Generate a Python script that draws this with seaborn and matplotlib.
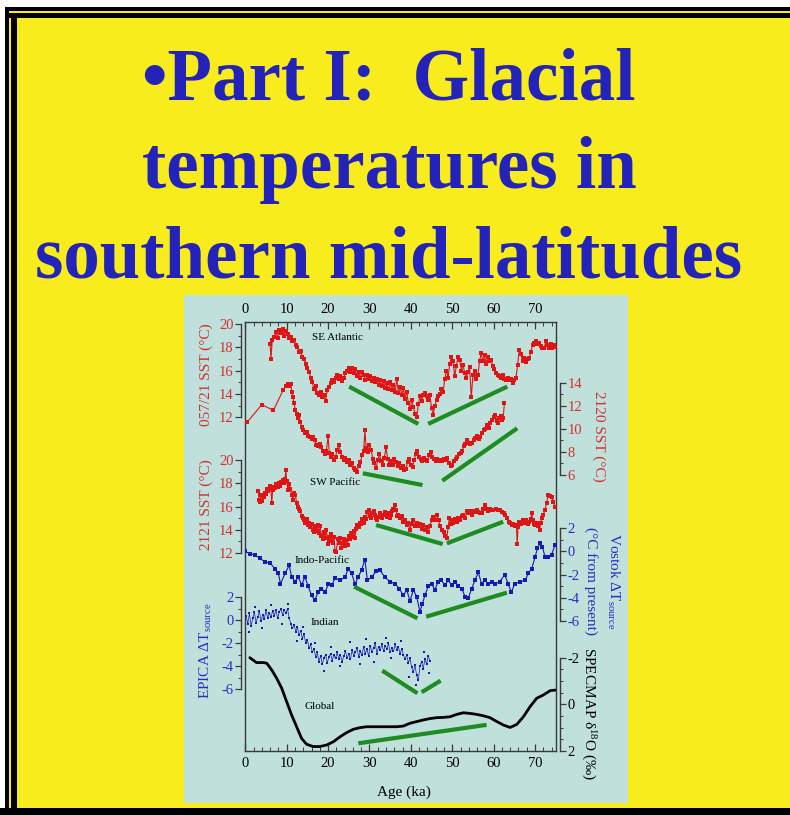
import matplotlib
matplotlib.use("Agg")
import matplotlib.pyplot as plt
import seaborn as sns
from matplotlib.patches import Rectangle
from matplotlib.ticker import MultipleLocator

# ---------------------------------------------------------------- data
# SE Atlantic, core 057/21 SST (degC)
se_atl_age = [6.0, 6.2, 6.5, 7.0, 7.4, 7.8, 8.2, 8.6, 9.0, 9.4, 9.8, 10.2, 10.6, 11.0, 11.4, 11.8,
              12.2, 12.6, 13.0, 13.4, 13.8, 14.2, 14.6, 15.0, 15.4, 15.8, 16.2, 16.6, 17.0, 17.4,
              17.8, 18.2, 18.6, 19.0, 19.4, 19.8, 20.2, 20.6, 21.0, 21.4, 21.8, 22.2, 22.6, 23.0,
              23.4, 23.8, 24.2, 24.6, 25.0, 25.4, 25.8, 26.2, 26.6, 27.0, 27.4, 27.8, 28.2, 28.6,
              29.0, 29.4, 29.8, 30.2, 30.6, 31.0, 31.4, 31.8, 32.2, 32.6, 33.0, 33.4, 33.8, 34.2,
              34.6, 35.0, 35.4, 35.8, 36.2, 36.6, 37.0, 37.4, 37.8, 38.2, 38.6, 39.0, 39.4, 39.8,
              40.2, 40.6, 41.0, 41.4, 41.8, 42.2, 42.6, 43.0, 43.4, 43.8, 44.2, 44.6, 45.0, 45.4,
              45.8, 46.2, 46.6, 47.0, 47.4, 47.8, 48.2, 48.6, 49.0, 49.4, 49.8, 50.2, 50.6, 51.0,
              51.4, 51.8, 52.2, 52.6, 53.0, 53.4, 53.8, 54.2, 54.6, 55.0, 55.4, 55.8, 56.2, 56.6,
              57.0, 57.4, 57.8, 58.2, 58.6, 59.0, 59.4, 59.8, 60.2, 60.6, 61.0, 61.4, 61.8, 62.2,
              62.6, 63.0, 63.4, 63.8, 64.2, 64.6, 65.0, 65.4, 65.8, 66.2, 66.6, 67.0, 67.4, 67.8,
              68.2, 68.6, 69.0, 69.4, 69.8, 70.2, 70.6, 71.0, 71.4, 71.8, 72.2, 72.6, 73.0, 73.4,
              73.8, 74.2, 74.6, 75.0]
se_atl_sst = [18.3, 17.0, 18.6, 18.9, 19.3, 18.8, 19.5, 19.2, 19.6, 19.0, 19.4, 19.1, 18.8, 18.9,
              18.5, 18.6, 18.2, 18.0, 17.6, 17.7, 17.2, 17.0, 16.6, 16.2, 15.9, 15.4, 15.0, 14.4,
              14.7, 14.1, 13.9, 14.2, 13.7, 13.9, 13.4, 14.3, 14.6, 14.9, 15.2, 15.0, 15.4, 15.6,
              15.3, 15.5, 15.1, 15.4, 15.8, 16.0, 16.2, 15.9, 16.2, 15.8, 16.1, 15.5, 15.9, 15.4,
              15.9, 15.6, 15.2, 15.6, 15.3, 15.5, 15.1, 15.4, 15.0, 15.3, 14.8, 15.2, 14.7, 15.1,
              14.5, 14.9, 14.4, 15.0, 14.3, 14.8, 14.2, 15.3, 14.1, 14.6, 13.9, 14.5, 13.6, 14.2,
              13.2, 12.7, 13.5, 12.9, 12.3, 12.0, 13.1, 13.8, 13.4, 13.9, 14.1, 13.8, 13.5, 13.9,
              12.8, 12.2, 13.0, 13.5, 13.8, 14.0, 14.4, 14.2, 15.3, 16.0, 15.4, 16.6, 17.2, 16.8,
              15.5, 16.4, 17.2, 16.9, 16.0, 16.5, 15.8, 15.4, 15.9, 16.3, 13.7, 15.6, 16.0, 15.3,
              15.6, 16.8, 17.5, 16.8, 17.3, 16.6, 17.2, 16.8, 16.9, 16.4, 16.1, 15.8, 15.6, 15.5,
              15.4, 15.6, 15.3, 15.2, 15.4, 15.2, 15.3, 14.9, 15.2, 15.4, 16.5, 17.8, 17.4, 16.8,
              17.1, 16.7, 17.0, 17.1, 17.6, 18.2, 18.4, 18.5, 18.3, 18.4, 18.1, 17.9, 17.9, 18.5,
              18.2, 17.9, 18.3, 17.9, 18.2, 18.0]

# core 2120 SST (degC)
c2120_age = [0.5, 4.0, 6.8, 9.2, 9.8, 10.2, 10.6, 11.0, 11.2, 11.5, 11.8, 12.1, 12.4, 12.7, 13.0,
             13.3, 13.6, 14.0, 14.4, 14.8, 15.2, 15.6, 16.0, 16.4, 16.8, 17.2, 17.6, 18.0, 18.4,
             18.8, 19.2, 19.6, 20.0, 20.3, 20.6, 21.0, 21.4, 21.8, 22.2, 22.6, 23.0, 23.4, 23.8,
             24.2, 24.6, 25.0, 25.4, 25.8, 26.2, 26.6, 27.0, 27.4, 27.8, 28.2, 28.6, 28.9, 29.2,
             29.6, 30.0, 30.4, 30.8, 31.2, 31.6, 32.0, 32.4, 32.8, 33.2, 33.6, 34.0, 34.4, 34.8,
             35.2, 35.6, 36.0, 36.4, 36.8, 37.2, 37.6, 38.0, 38.4, 38.8, 39.2, 39.6, 40.0, 40.4,
             40.8, 41.2, 41.6, 42.0, 42.4, 42.8, 43.2, 43.6, 44.0, 44.4, 44.8, 45.2, 45.6, 46.0,
             46.4, 46.8, 47.2, 47.6, 48.0, 48.4, 48.8, 49.2, 49.6, 50.0, 50.4, 50.8, 51.2, 51.6,
             52.0, 52.4, 52.8, 53.2, 53.6, 54.0, 54.4, 54.8, 55.2, 55.6, 56.0, 56.4, 56.8, 57.2,
             57.6, 58.0, 58.4, 58.8, 59.2, 59.6, 60.0, 60.4, 60.8, 61.1, 61.4, 61.7, 62.0, 62.3,
             62.6]
c2120_sst = [10.6, 12.1, 11.6, 13.4, 13.7, 13.9, 13.7, 13.9, 13.2, 12.8, 12.2, 11.6, 11.3, 10.9,
             11.2, 10.6, 10.2, 9.9, 9.6, 9.7, 9.4, 9.3, 9.1, 9.3, 9.0, 8.6, 8.5, 8.7, 8.4, 8.1,
             7.8, 8.1, 9.4, 7.9, 7.6, 7.8, 7.3, 7.6, 8.2, 8.6, 8.0, 7.6, 7.3, 7.5, 7.1, 7.3, 6.9,
             7.0, 6.6, 6.4, 6.3, 6.8, 7.1, 7.7, 8.1, 9.9, 8.3, 8.0, 8.6, 8.2, 7.4, 7.0, 6.6, 7.3,
             7.8, 7.2, 6.9, 7.5, 8.4, 7.4, 6.9, 7.2, 6.9, 7.4, 7.1, 6.8, 7.0, 6.6, 6.8, 6.4, 6.5,
             7.1, 7.4, 6.9, 6.7, 7.3, 7.8, 8.1, 7.6, 7.4, 7.2, 7.5, 7.3, 7.2, 7.7, 8.0, 7.6, 7.4,
             7.2, 7.4, 7.2, 7.3, 7.2, 7.4, 7.3, 7.5, 7.0, 6.8, 6.9, 7.2, 7.4, 7.6, 7.8, 7.9, 8.1,
             8.5, 8.7, 9.0, 8.8, 8.7, 8.8, 9.0, 9.2, 9.4, 9.1, 9.3, 9.6, 9.9, 10.0, 10.3, 10.1,
             10.5, 10.8, 11.0, 11.2, 10.7, 10.5, 10.9, 11.1, 10.8, 10.9, 12.2]

# SW Pacific, core 2121 SST (degC)
sw_pac_age = [3.1, 3.3, 3.5, 3.8, 4.1, 4.4, 4.7, 5.0, 5.3, 5.6, 5.9, 6.2, 6.4, 6.6, 6.9, 7.2, 7.5,
              7.8, 8.1, 8.4, 8.7, 9.0, 9.3, 9.6, 9.8, 10.0, 10.3, 10.6, 10.9, 11.2, 11.5, 11.8,
              12.1, 12.4, 12.7, 13.0, 13.3, 13.6, 13.9, 14.2, 14.5, 14.8, 15.1, 15.4, 15.7, 16.0,
              16.3, 16.6, 16.9, 17.2, 17.5, 17.8, 18.1, 18.4, 18.7, 19.0, 19.3, 19.6, 19.9, 20.2,
              20.5, 20.8, 21.1, 21.4, 21.7, 22.0, 22.3, 22.6, 22.9, 23.2, 23.5, 23.8, 24.1, 24.4,
              24.7, 25.0, 25.3, 25.6, 25.9, 26.2, 26.5, 26.8, 27.1, 27.4, 27.7, 28.0, 28.3, 28.6,
              28.9, 29.2, 29.5, 29.8, 30.1, 30.4, 30.7, 31.0, 31.3, 31.6, 31.9, 32.2, 32.5, 32.8,
              33.1, 33.4, 33.7, 34.0, 34.3, 34.6, 34.9, 35.2, 35.5, 35.8, 36.1, 36.4, 36.7, 37.0,
              37.4, 37.8, 38.2, 38.6, 39.0, 39.4, 39.8, 40.2, 40.6, 41.0, 41.4, 41.8, 42.2, 42.6,
              43.0, 43.4, 43.8, 44.2, 44.6, 45.0, 45.4, 45.8, 46.3, 46.7, 47.1, 47.5, 47.9, 48.3,
              48.7, 49.0, 49.3, 49.7, 50.0, 50.3, 50.7, 51.1, 51.5, 51.9, 52.3, 52.7, 53.1, 53.5,
              53.9, 54.3, 54.7, 55.1, 55.5, 55.9, 56.3, 56.7, 57.1, 57.5, 57.9, 58.3, 58.7, 59.1,
              59.5, 59.9, 60.5, 61.0, 61.5, 62.0, 62.5, 62.8, 63.2, 63.6, 64.0, 64.4, 64.8, 65.2,
              65.5, 65.7, 65.9, 66.2, 66.6, 67.0, 67.4, 67.8, 68.2, 68.6, 69.0, 69.2, 69.5, 69.8,
              70.0, 70.4, 70.8, 71.1, 71.4, 71.6, 72.0, 72.4, 72.8, 73.2, 73.6, 74.0, 74.4, 74.8]
sw_pac_sst = [17.3, 16.6, 16.4, 17.0, 16.5, 16.8, 17.2, 17.1, 17.5, 17.3, 17.8, 17.5, 16.3, 17.4,
              17.7, 17.6, 17.9, 17.7, 18.0, 17.8, 18.1, 18.3, 18.0, 18.4, 19.1, 18.2, 17.4, 17.9,
              17.5, 17.0, 16.6, 17.2, 17.0, 16.3, 16.0, 15.8, 15.6, 15.2, 15.0, 14.8, 14.6, 14.9,
              14.4, 14.6, 14.2, 14.5, 14.0, 13.8, 14.3, 13.9, 14.4, 13.7, 14.3, 13.5, 13.2, 13.8,
              13.3, 14.0, 12.8, 13.4, 13.0, 13.6, 12.9, 13.4, 12.2, 12.1, 13.2, 12.9, 13.3, 12.4,
              12.9, 13.2, 12.6, 13.1, 12.7, 13.5, 13.2, 13.7, 13.4, 13.9, 13.3, 14.1, 14.4, 14.2,
              14.6, 14.5, 14.9, 14.6, 15.1, 14.9, 15.5, 15.7, 15.2, 15.0, 15.4, 15.6, 15.3, 15.0,
              14.8, 15.1, 15.4, 15.2, 15.0, 15.3, 15.5, 15.3, 15.1, 15.4, 15.0, 15.3, 15.6, 15.8,
              16.1, 15.7, 15.2, 15.3, 15.0, 15.2, 14.7, 14.8, 14.4, 14.6, 14.0, 14.5, 14.8, 14.3,
              14.6, 14.3, 14.5, 14.1, 14.4, 14.0, 14.2, 13.8, 14.3, 14.8, 15.1, 14.8, 15.3, 14.8,
              14.3, 14.0, 13.8, 13.5, 13.3, 14.2, 15.0, 14.5, 14.8, 14.6, 14.9, 14.7, 15.0, 14.8,
              15.2, 15.3, 15.0, 15.6, 15.4, 15.6, 15.3, 15.6, 15.5, 15.7, 15.5, 15.4, 15.4, 15.8,
              16.1, 15.8, 15.6, 15.8, 15.7, 15.7, 15.8, 15.7, 15.7, 15.5, 15.4, 15.3, 15.0, 14.7,
              14.6, 14.4, 14.5, 14.3, 14.4, 12.8, 14.2, 14.7, 14.5, 14.8, 14.6, 14.8, 14.5, 14.7,
              14.9, 15.4, 14.8, 14.5, 14.4, 14.6, 14.3, 14.0, 14.6, 15.0, 15.3, 15.7, 16.3, 17.0,
              16.9, 16.8, 16.4, 16.0]

# Indo-Pacific, Vostok Delta T source (degC from present)
vostok_age = [0.0, 1.1, 2.3, 3.5, 4.8, 6.0, 7.2, 8.0, 8.5, 9.6, 10.6, 11.2, 12.0, 12.8, 13.6,
              14.4, 15.2, 16.0, 16.8, 17.6, 18.4, 19.3, 20.1, 20.9, 21.7, 22.9, 24.1, 24.9, 25.7,
              26.5, 27.3, 28.1, 28.9, 29.5, 30.5, 31.7, 32.5, 33.7, 34.9, 36.2, 37.2, 38.2, 39.0,
              39.8, 40.6, 41.4, 42.2, 42.8, 43.4, 44.2, 45.0, 45.8, 46.6, 47.4, 48.2, 49.0, 49.9,
              50.7, 51.5, 52.3, 53.1, 53.9, 54.7, 55.5, 56.3, 57.1, 57.9, 58.7, 59.5, 60.3, 61.5,
              62.7, 63.5, 64.3, 65.1, 66.4, 67.6, 68.4, 69.2, 70.0, 70.6, 71.2, 71.8, 72.4, 73.2,
              74.0, 74.8]
vostok_dt = [0.0, -0.2, -0.3, -0.6, -0.9, -1.0, -1.5, -1.9, -2.8, -1.9, -1.2, -2.2, -2.6, -2.2,
             -2.9, -2.2, -3.0, -3.8, -4.2, -3.5, -3.2, -3.5, -2.8, -2.9, -2.3, -2.5, -2.2, -1.5,
             -1.9, -2.8, -2.2, -1.6, -0.7, -2.5, -2.2, -1.7, -1.6, -2.2, -2.6, -2.8, -3.2, -3.8,
             -3.3, -4.3, -3.3, -3.9, -5.2, -4.5, -3.8, -3.0, -2.8, -3.3, -2.6, -2.5, -2.9, -2.5,
             -2.9, -2.6, -3.0, -3.2, -3.9, -4.0, -3.2, -2.5, -1.8, -2.8, -2.5, -2.8, -2.6, -2.8,
             -2.6, -2.0, -2.8, -3.5, -2.8, -2.6, -2.5, -1.9, -1.5, -0.5, 0.3, 0.7, 0.4, -0.45,
             -0.45, -0.3, 0.55]

# Indian, EPICA Delta T source (degC)
indian_age = [0.2, 0.6, 1.0, 1.4, 1.8, 2.2, 2.6, 3.0, 3.4, 3.8, 4.2, 4.6, 5.0, 5.4, 5.8, 6.2,
              6.6, 7.0, 7.4, 7.8, 8.2, 8.6, 9.0, 9.4, 9.8, 10.2, 10.6, 11.0, 11.4, 11.8, 12.2,
              12.6, 13.0, 13.4, 13.8, 14.2, 14.6, 15.0, 15.4, 15.8, 16.2, 16.6, 17.0, 17.4, 17.8,
              18.2, 18.6, 19.0, 19.4, 19.8, 20.2, 20.6, 21.0, 21.4, 21.8, 22.2, 22.6, 23.0, 23.4,
              23.8, 24.2, 24.6, 25.0, 25.4, 25.8, 26.2, 26.6, 27.0, 27.4, 27.8, 28.2, 28.6, 29.0,
              29.4, 29.8, 30.2, 30.6, 31.0, 31.4, 31.8, 32.2, 32.6, 33.0, 33.4, 33.8, 34.2, 34.6,
              35.0, 35.4, 35.8, 36.2, 36.6, 37.0, 37.4, 37.8, 38.2, 38.6, 39.0, 39.4, 39.8, 40.2,
              40.6, 41.0, 41.4, 41.8, 42.2, 42.6, 43.0, 43.4, 43.8, 44.2, 44.6]
indian_dt = [0.4, -0.3, 0.6, -0.5, 0.2, 0.7, -0.2, 0.3, 0.8, -0.1, 0.5, 0.1, 0.9, 0.2, 0.6, 0.3,
             0.8, 0.4, 0.9, 0.2, 0.7, 1.0, 0.5, 0.9, 0.6, 1.0, 0.2, -0.3, -0.7, -0.4, -1.0, -0.6,
             -1.3, -0.9, -1.6, -1.2, -2.0, -1.7, -2.4, -2.1, -2.8, -2.5, -3.2, -2.8, -3.6, -3.1,
             -3.8, -3.3, -3.0, -3.7, -3.2, -2.9, -3.5, -3.0, -3.3, -2.8, -3.4, -3.0, -3.6, -3.1,
             -2.7, -3.3, -2.9, -3.4, -2.6, -3.1, -2.8, -2.4, -3.2, -2.7, -3.0, -2.3, -2.9, -2.5,
             -3.1, -2.2, -2.8, -2.4, -2.0, -2.9, -2.3, -2.6, -2.1, -2.7, -2.2, -2.5, -2.0, -2.8,
             -2.4, -2.7, -2.1, -2.6, -2.3, -2.9, -2.5, -3.0, -3.4, -3.0, -3.7, -3.3, -4.1, -4.5,
             -3.9, -4.8, -5.2, -4.0, -3.6, -4.2, -3.4, -3.8, -3.1, -3.5]
# scattered outlying samples of the Indian record
indian_out_age = [0.8, 2.4, 4.0, 6.1, 8.8, 10.4, 12.5, 14.0, 16.8, 18.9, 20.8, 22.9, 25.2, 27.6,
                  29.1, 31.2, 33.9, 35.3, 37.6, 39.5, 41.2, 43.1, 44.3]
indian_out_dt = [-1.0, 1.2, -0.7, 1.3, -0.3, 1.4, -1.8, -0.6, -2.0, -4.4, -2.3, -4.0, -1.9,
                 -3.8, -1.6, -3.6, -1.5, -3.3, -1.8, -4.9, -5.6, -2.8, -4.6]

# Global, SPECMAP delta18O (permil)
global_age = [1.1, 2.7, 4.4, 5.2, 6.4, 7.6, 8.8, 10.0, 11.2, 12.4, 13.6, 14.8, 16.4, 18.0, 19.7,
              21.3, 22.9, 24.5, 26.1, 27.7, 29.3, 31.7, 34.2, 36.6, 38.2, 39.8, 41.4, 43.0, 44.6,
              46.3, 47.9, 49.5, 51.1, 52.7, 54.3, 55.9, 57.5, 59.1, 60.8, 62.4, 64.0, 65.6, 67.2,
              68.8, 70.4, 72.0, 73.7, 74.9]
global_d18o = [-2.0, -1.79, -1.79, -1.76, -1.47, -1.11, -0.69, -0.11, 0.46, 0.96, 1.46, 1.71,
               1.81, 1.81, 1.74, 1.60, 1.39, 1.21, 1.07, 1.00, 0.96, 0.96, 0.96, 0.96, 0.93, 0.81,
               0.74, 0.67, 0.61, 0.57, 0.56, 0.53, 0.43, 0.36, 0.39, 0.43, 0.49, 0.57, 0.74, 0.89,
               0.99, 0.86, 0.53, 0.10, -0.26, -0.40, -0.59, -0.61]

# trend segments: (age0, value0, age1, value1) in each record's own units
se_atl_trends = [(25.1, 14.63, 41.8, 11.43), (44.2, 11.43, 63.3, 14.63)]
c2120_trends = [(28.4, 6.15, 42.8, 5.13), (47.6, 5.50, 65.7, 10.05)]
sw_pac_trends = [(31.6, 14.41, 47.7, 12.77), (48.7, 12.83, 62.3, 14.69)]
vostok_trends = [(26.3, -3.04, 41.6, -5.77), (43.7, -5.63, 63.2, -3.56)]
indian_trends = [(33.1, -4.38, 41.6, -6.35), (42.6, -6.26, 47.2, -5.25)]
global_trends = [(27.3, 1.67, 58.3, 0.88)]

x_ticks = [0, 10, 20, 30, 40, 50, 60, 70]

# ---------------------------------------------------------------- style
sns.set_theme(style="white")
plt.rcParams["font.family"] = ["Liberation Serif", "DejaVu Serif"]
plt.rcParams["mathtext.fontset"] = "custom"
plt.rcParams["mathtext.rm"] = "Liberation Serif"
plt.rcParams["mathtext.it"] = "Liberation Serif:italic"
plt.rcParams["axes.unicode_minus"] = False

W, H = 790, 815
YELLOW = "#f9ec1d"
PANEL = "#bfe0db"
TITLE_BLUE = "#2323b9"
RED = "#e01414"
RED_TXT = "#d43030"
BLUE = "#1818b4"
BLUE_TXT = "#2a2ac8"
GREEN = "#1f8c22"
SPINE = "#3a3a3a"

fig = plt.figure(figsize=(W / 100, H / 100), dpi=100)
fig.patch.set_facecolor(YELLOW)


def box(x0, y0, x1, y1, color, z=-5):
    fig.add_artist(Rectangle((x0 / W, 1 - y1 / H), (x1 - x0) / W, (y1 - y0) / H,
                             transform=fig.transFigure, facecolor=color,
                             edgecolor="none", zorder=z))


def fxy(x, y):
    return x / W, 1 - y / H


# slide frame
box(0, 0, W, 7, "white")
box(0, 0, 5, H, "white")
box(5, 7, W, 11, "black")
box(5, 12.5, W, 18, "black")
box(5, 7, 9, 808, "black")
box(11, 12.5, 17, 808, "black")
box(0, 807.5, W, H, "black")
# figure panel
box(184, 295, 628, 803, PANEL)

# title
for txt, base in [("\u2022Part I:  Glacial", 100), ("temperatures in", 188),
                  ("southern mid-latitudes", 278)]:
    fig.text(*fxy(389, base), txt, ha="center", va="baseline", fontsize=52.5,
             fontweight="bold", color=TITLE_BLUE, family="Liberation Serif")

# ---------------------------------------------------------------- axes
x0p, x1p, y0p, y1p = 245.3, 555.7, 322, 751
rect = [x0p / W, 1 - y1p / H, (x1p - x0p) / W, (y1p - y0p) / H]
TICK_FS = 10.5

ax = fig.add_axes(rect)
ax.set_facecolor("none")
ax.set_xlim(0, 75)
ax.set_yticks([])
for s in ax.spines.values():
    s.set_visible(True)
    s.set_color(SPINE)
    s.set_linewidth(1.0)
ax.set_xticks(x_ticks)
ax.xaxis.set_minor_locator(MultipleLocator(2))
ax.tick_params(axis="x", which="both", top=True, bottom=True, labeltop=True,
               labelbottom=True, direction="in", color=SPINE, labelsize=TICK_FS,
               labelcolor="black", pad=4)
ax.tick_params(axis="x", which="major", length=5, width=0.9)
ax.tick_params(axis="x", which="minor", length=3, width=0.7)

tracks = [
    dict(age=se_atl_age, val=se_atl_sst, ylim=(-16.61, 20.17), side="left",
         bounds=(12, 20), major=[12, 14, 16, 18, 20], minor=1, col=RED, tcol=RED_TXT,
         trends=se_atl_trends, name="SE Atlantic", name_xy=(22.2, 18.8), kind="pts"),
    dict(age=c2120_age, val=c2120_sst, ylim=(-17.92, 19.26), side="right",
         bounds=(6, 14), major=[6, 8, 10, 12, 14], minor=1, col=RED, tcol=RED_TXT,
         trends=c2120_trends, name=None, kind="pts"),
    dict(age=sw_pac_age, val=sw_pac_sst, ylim=(-5.03, 31.87), side="left",
         bounds=(12, 20), major=[12, 14, 16, 18, 20], minor=1, col=RED, tcol=RED_TXT,
         trends=sw_pac_trends, name="SW Pacific", name_xy=(21.7, 18.1), kind="pts"),
    dict(age=vostok_age, val=vostok_dt, ylim=(-17.22, 19.80), side="right",
         bounds=(-6, 2), major=[-6, -4, -2, 0, 2], minor=1, col=BLUE, tcol=BLUE_TXT,
         trends=vostok_trends, name="Indo-Pacific", name_xy=(18.5, -0.74), kind="pts"),
    dict(age=indian_age, val=indian_dt, ylim=(-11.37, 25.95), side="left",
         bounds=(-6, 2), major=[-6, -4, -2, 0, 2], minor=1, col=BLUE, tcol=BLUE_TXT,
         trends=indian_trends, name="Indian", name_xy=(19.3, -0.23), kind="dots",
         extra=(indian_out_age, indian_out_dt)),
    dict(age=global_age, val=global_d18o, ylim=(2.0, -16.39), side="right",
         bounds=(-2, 2), major=[-2, 0, 2], minor=0.5, col="black", tcol="black",
         trends=global_trends, name="Global", name_xy=(18.0, 0.11), kind="thick"),
]

for tr in tracks:
    tax = fig.add_axes(rect, sharex=ax)
    tax.patch.set_visible(False)
    for s in tax.spines.values():
        s.set_visible(False)
    side = tr["side"]
    sp = tax.spines[side]
    sp.set_visible(True)
    sp.set_color(SPINE)
    sp.set_linewidth(1.0)
    sp.set_position(("outward", 3))
    sp.set_bounds(*tr["bounds"])
    tax.yaxis.set_ticks_position(side)
    tax.tick_params(axis="x", which="both", bottom=False, top=False,
                    labelbottom=False, labeltop=False)

    if tr["kind"] == "thick":
        sns.lineplot(x=tr["age"], y=tr["val"], ax=tax, color=tr["col"], linewidth=2.0,
                     estimator=None, sort=False, zorder=3)
    elif tr["kind"] == "dots":
        sns.lineplot(x=tr["age"], y=tr["val"], ax=tax, color=tr["col"], linewidth=0.5,
                     marker="s", markersize=1.9, markeredgewidth=0, estimator=None,
                     sort=False, zorder=3)
        ex_age, ex_val = tr["extra"]
        sns.scatterplot(x=ex_age, y=ex_val, ax=tax, color=tr["col"], s=2.5, marker="s",
                        linewidth=0, zorder=3)
    else:
        sns.lineplot(x=tr["age"], y=tr["val"], ax=tax, color=tr["col"], linewidth=0.8,
                     marker="s", markersize=2.2, markeredgewidth=0, estimator=None,
                     sort=False, zorder=3)

    for a0, v0, a1, v1 in tr["trends"]:
        tax.plot([a0, a1], [v0, v1], color=GREEN, linewidth=3.0,
                 solid_capstyle="butt", zorder=4)

    if tr["name"]:
        tax.text(*tr["name_xy"], tr["name"], ha="center", va="center", fontsize=8,
                 color="black", zorder=5)

    tax.set_ylim(*tr["ylim"])
    tax.set_yticks(tr["major"])
    tax.yaxis.set_minor_locator(MultipleLocator(tr["minor"]))
    lo, hi = tr["bounds"]
    tax.set_yticks([t for t in tax.yaxis.get_minorticklocs() if lo <= t <= hi],
                   minor=True)
    tax.set_yticklabels([f"{t:g}" for t in tr["major"]])
    tax.tick_params(axis="y", which="both", direction="out", color=SPINE,
                    labelcolor=tr["tcol"], labelsize=TICK_FS, pad=1.5)
    tax.tick_params(axis="y", which="major", length=4, width=0.9)
    tax.tick_params(axis="y", which="minor", length=2.5, width=0.7)
    tax.set_xlabel("")
    tax.set_ylabel("")

ax.set_xlim(0, 75)

# axis titles
LAB_FS = 11
fig.text(*fxy(206, 375), "057/21 SST (\u00b0C)", rotation=90, ha="center", va="center",
         fontsize=LAB_FS, color=RED_TXT)
fig.text(*fxy(206, 505), "2121 SST (\u00b0C)", rotation=90, ha="center", va="center",
         fontsize=LAB_FS, color=RED_TXT)
fig.text(*fxy(206, 651), "EPICA \u0394T$_{\\mathrm{source}}$", rotation=90, ha="center",
         va="center", fontsize=LAB_FS, color=BLUE_TXT)
fig.text(*fxy(599, 436), "2120 SST (\u00b0C)", rotation=270, ha="center", va="center",
         fontsize=LAB_FS, color=RED_TXT)
fig.text(*fxy(613, 581), "Vostok \u0394T$_{\\mathrm{source}}$", rotation=270, ha="center",
         va="center", fontsize=LAB_FS, color=BLUE_TXT)
fig.text(*fxy(591, 581), "(\u00b0C from present)", rotation=270, ha="center",
         va="center", fontsize=LAB_FS, color=BLUE_TXT)
fig.text(*fxy(588, 714), "SPECMAP \u03b4$^{18}$O (\u2030)", rotation=270, ha="center",
         va="center", fontsize=LAB_FS, color="black")
fig.text(*fxy(404, 792), "Age (ka)", ha="center", va="center", fontsize=LAB_FS,
         color="black")

fig.savefig("out.png", dpi=100, facecolor=fig.get_facecolor())
